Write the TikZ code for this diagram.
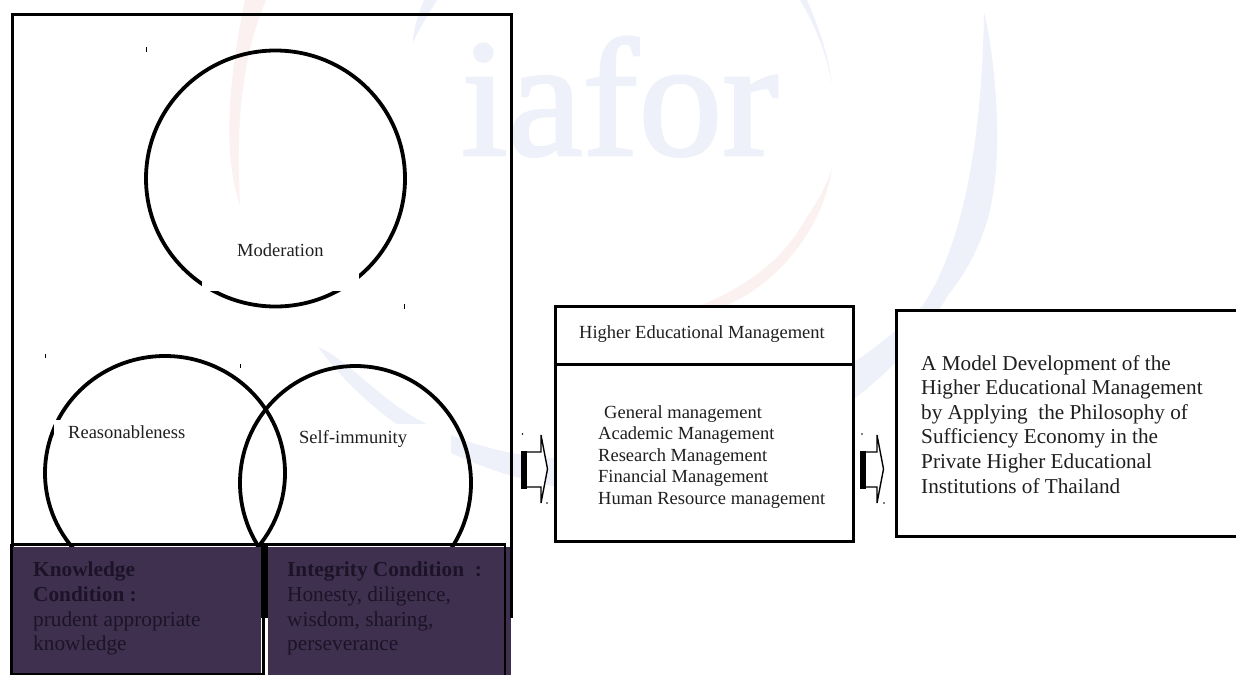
\documentclass[tikz,border=0pt]{standalone}
\usepackage{fontspec}
\setmainfont{Liberation Serif}
\newfontfamily\wmfont[FakeBold=1.6]{Liberation Serif}
\usetikzlibrary{shapes.geometric}
\definecolor{wmblue}{HTML}{EEF1F9}
\definecolor{wmred}{HTML}{FBF1F0}
\definecolor{plum}{HTML}{3F3050}
\definecolor{plumtext}{HTML}{1B1426}
\newcommand{\smalltxt}{\fontsize{18.5}{21.5}\selectfont}
\newcommand{\midtxt}{\fontsize{21.2}{24.6}\selectfont}
\newcommand{\bigtxt}{\fontsize{21.3}{24.6}\selectfont}
\tikzset{
  x=1pt,y=-1pt,
  heavy/.style={line width=3pt,black},
  ring/.style={draw=black,line width=3.8pt,ellipse,inner sep=0pt,minimum width=0pt},
  label/.style={anchor=base west,inner sep=0pt,text=black!88},
  para/.style={anchor=north west,inner sep=0pt,align=left},
  plumbox/.style={anchor=north west,inner sep=0pt,align=left,text=plumtext},
  tick/.style={line width=0.9pt,black},
  blockhead/.style={fill=white,draw=black,line width=1.4pt,line join=miter},
  mask/.style={fill=white,draw=none},
  wm/.style={draw=none}
}
\newcommand{\blockarrow}[2]{%
  \begin{scope}[shift={(#1,0)}]
    \draw[blockhead] (0,452) -- (#2,452) -- (#2,435) -- ({#2+6.5},469) -- (#2,503) -- (#2,487) -- (0,487) -- cycle;
    \fill[black] (-1,450.5) rectangle (4.5,488.5);
  \end{scope}}
\begin{document}
\begin{tikzpicture}
\useasboundingbox (0,0) rectangle (1236,675);
\fill[white] (0,0) rectangle (1236,675);
% watermark
\node[anchor=base west,inner sep=0pt,text=wmblue,font=\wmfont\fontsize{168}{168}\selectfont] (wmark) at (461,155) {iafor};
\fill[wmblue,wm] (318,347) .. controls (345,357) and (385,405) .. (427,424)
   .. controls (500,462) and (600,472) .. (690,440)
   .. controls (770,415) and (860,370) .. (923,305)
   .. controls (960,250) and (982,150) .. (984,12)
   .. controls (996,60) and (1002,150) .. (992,200)
   .. controls (985,240) and (965,275) .. (948,295)
   .. controls (900,380) and (780,470) .. (640,495)
   .. controls (570,495) and (500,476) .. (451,453)
   .. controls (400,435) and (350,390) .. cycle;
\fill[wmred,wm] (245,0) -- (266,0) .. controls (245,50) and (235,110) .. (240,205)
   .. controls (228,170) and (222,110) .. cycle;
\fill[wmblue,wm] (424,0) -- (437,0) .. controls (425,20) and (418,30) .. (413,43) .. controls (413,30) and (418,15) .. cycle;
\fill[wmblue,wm] (800,0) -- (807,0) .. controls (820,30) and (828,55) .. (832,83) .. controls (825,50) and (815,25) .. cycle;
\fill[wmred,wm] (832,168) .. controls (825,215) and (795,265) .. (745,296)
   -- (700,320) -- (690,310) .. controls (740,290) and (780,265) .. (805,220) .. controls (815,205) and (825,190) .. cycle;
% outer frame
\draw[heavy] (12,675) -- (12,14) -- (511,14) -- (511,618);
% circles
\node[ring,minimum width=259pt,minimum height=256pt] (moderation) at (275.5,178.5) {};
\node[ring,minimum width=240pt,minimum height=234pt] (reason) at (165,473) {};
\node[ring,minimum width=231pt,minimum height=234pt] (immunity) at (355.5,483) {};
% white text frames
\fill[mask] (202,240) rectangle (359,291);
\fill[mask] (54,420) rectangle (200,450);
\fill[mask] (290,424) rectangle (451,470);
% circle labels
\node[label,font=\smalltxt] (modtext) at (237,256) {Moderation};
\node[label,font=\smalltxt] (reatext) at (68,438) {Reasonableness};
\node[label,font=\smalltxt] (imtext) at (299,443) {Self-immunity};
% small frame ticks
\draw[tick] (146,47) -- (146,52);
\draw[tick] (404,304) -- (404,309);
\draw[tick] (45.7,354) -- (45.7,358);
\draw[tick] (240,364) -- (240,368);
% lower condition boxes
\fill[plum] (11,547) rectangle (261,675);
\fill[plum] (268,547) rectangle (511,675);
\draw[black,line width=2.5pt] (11.5,544.5) -- (506,544.5);
\draw[black,line width=2.5pt] (11.5,544) -- (11.5,675);
\draw[black,line width=1.5pt] (11,674) -- (262,674);
\draw[black,line width=6.5pt] (264.3,544) -- (264.3,618);
\draw[black,line width=3.5pt] (263.5,618) -- (263.5,675);
\draw[black,line width=2.5pt] (505,544) -- (505,675);
\draw[black,line width=3pt] (511,547) -- (511,618);
\node[plumbox,font=\bigtxt] (know) at (33,562) {\textbf{Knowledge}\\\textbf{Condition :}\\prudent appropriate\\knowledge};
\node[plumbox,font=\bigtxt] (integ) at (287,562) {\textbf{Integrity Condition~~:}\\Honesty, diligence,\\wisdom, sharing,\\perseverance};
% arrows
\blockarrow{522}{19}
\blockarrow{861}{16}
\fill (522.5,434) circle (0.9pt);
\fill (547,503) circle (0.9pt);
\fill (862,434) circle (0.9pt);
\fill (884,503) circle (0.9pt);
% middle box
\fill[white] (555,306.5) rectangle (853.5,541.5);
\draw[heavy] (555,306.5) rectangle (853.5,541.5);
\draw[heavy] (555,364.5) -- (853.5,364.5);
\node[label,font=\smalltxt] (het) at (579,338) {Higher Educational Management};
\node[label,font=\smalltxt] (l1) at (604,418) {General management};
\node[label,font=\smalltxt] (l2) at (598,439) {Academic Management};
\node[label,font=\smalltxt] (l3) at (598,461) {Research Management};
\node[label,font=\smalltxt] (l4) at (598,482) {Financial Management};
\node[label,font=\smalltxt] (l5) at (598,504) {Human Resource management};
% right box
\fill[white] (896.5,310) rectangle (1236,536.5);
\draw[heavy] (1236,310) -- (896.5,310) -- (896.5,536.5) -- (1236,536.5);
\node[para,font=\midtxt,text=black!88] (model) at (921,355) {A Model Development of the\\Higher Educational Management\\by Applying~~the Philosophy of\\Sufficiency Economy in the\\Private Higher Educational\\Institutions of Thailand};
\end{tikzpicture}
\end{document}
